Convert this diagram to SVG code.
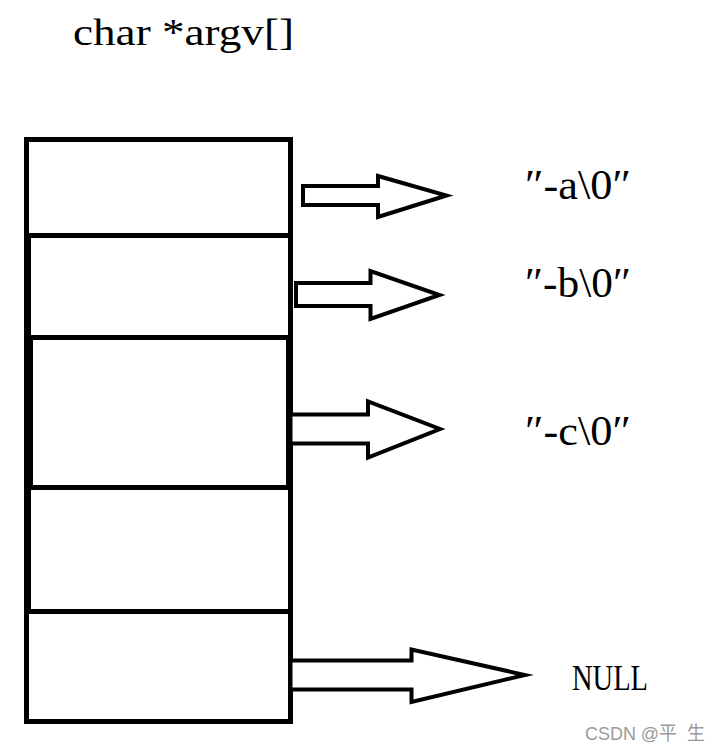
<svg xmlns="http://www.w3.org/2000/svg" width="721" height="751" viewBox="0 0 721 751">
<style>
.cell{fill:none;stroke:#000;stroke-width:5}
.arr{fill:#fff;stroke:#000;stroke-width:4;stroke-linejoin:miter;stroke-miterlimit:10}
.t{font-family:"Liberation Serif","Times New Roman",serif;fill:#000}
.wm{font-family:"Liberation Sans","Noto Sans CJK SC",sans-serif;fill:#9a9a9a;font-size:19px}
</style>
<rect width="721" height="751" fill="#fff"/>
<text class="t" x="73" y="45" font-size="37" textLength="221" lengthAdjust="spacingAndGlyphs">char *argv[]</text>
<g id="array">
<rect class="cell" x="26.5" y="139.5" width="264" height="582"/>
<g id="cell1"><rect class="cell" x="26.5" y="139.5" width="264" height="96"/></g>
<g id="cell2"><rect class="cell" x="28.5" y="235.5" width="262" height="102"/></g>
<g id="cell3"><rect class="cell" x="30.5" y="337.5" width="258" height="150"/></g>
<g id="cell4"><rect class="cell" x="28.5" y="487.5" width="262" height="124"/></g>
<g id="cell5"><rect class="cell" x="26.5" y="611.5" width="264" height="110"/></g>
</g>
<g id="connectors">
<polygon class="arr" points="303,186 378,186 378,176 446.5,195.5 378,217 378,205 303,205"/>
<polygon class="arr" points="296,283 370.5,283 370.5,271 439.5,295 370.5,319 370.5,306 296,306"/>
<polygon class="arr" points="290.5,414.5 368,414.5 368,401.5 440,429 368,457.5 368,443.5 290.5,443.5"/>
<polygon class="arr" points="290.5,660.5 411.5,660.5 411.5,649.5 525,675 411.5,702 411.5,689.5 290.5,689.5"/>
</g>
<g id="str-a"><text class="t" x="525" y="199" font-size="42" textLength="106" lengthAdjust="spacingAndGlyphs">″-a\0″</text></g>
<g id="str-b"><text class="t" x="525" y="297" font-size="42" textLength="106" lengthAdjust="spacingAndGlyphs">″-b\0″</text></g>
<g id="str-c"><text class="t" x="525" y="445" font-size="42" textLength="106" lengthAdjust="spacingAndGlyphs">″-c\0″</text></g>
<g id="null"><text class="t" x="572" y="690" font-size="35" textLength="76" lengthAdjust="spacingAndGlyphs">NULL</text></g>
<text class="wm" x="585" y="740" textLength="120" lengthAdjust="spacingAndGlyphs" xml:space="preserve">CSDN @平  生</text>
</svg>
